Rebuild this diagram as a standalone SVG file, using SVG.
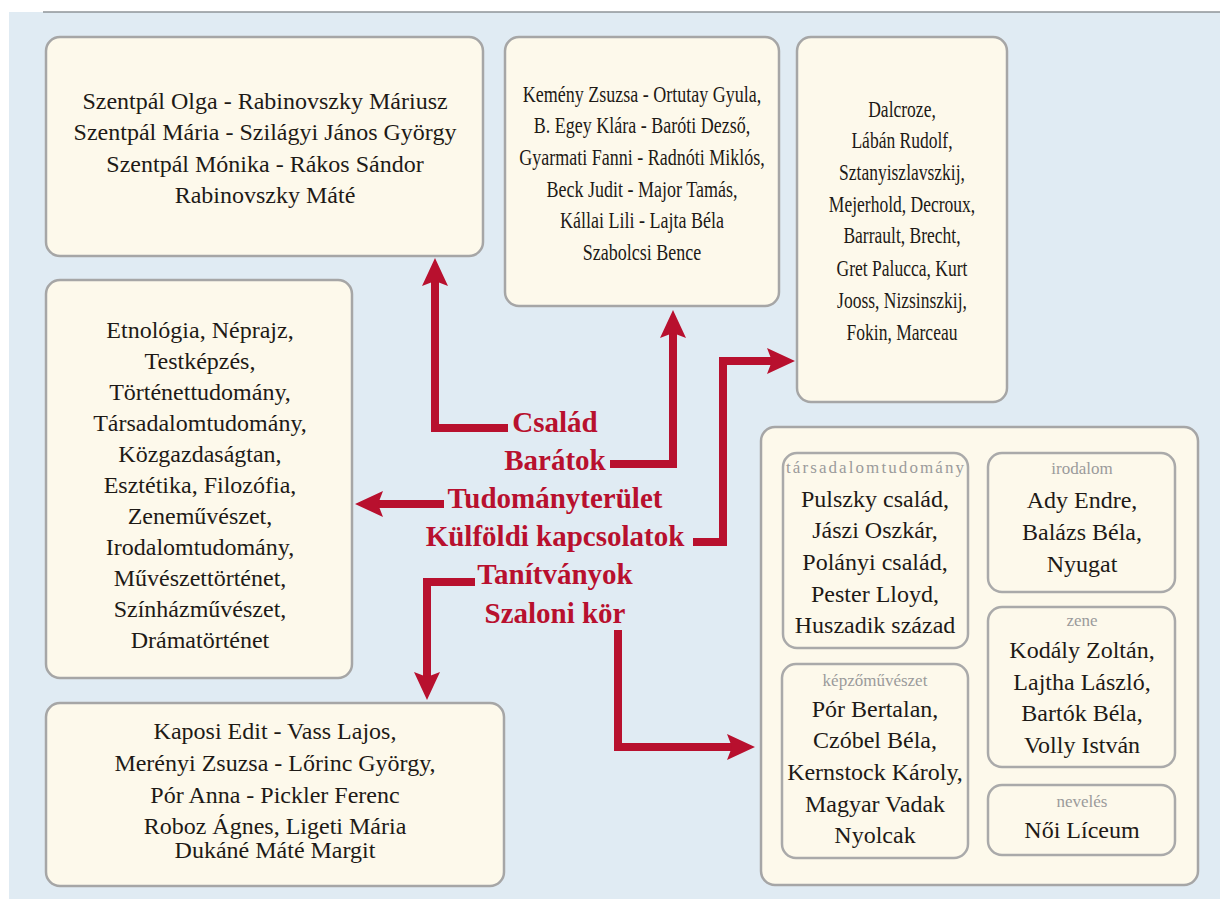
<svg xmlns="http://www.w3.org/2000/svg" width="1220" height="899" viewBox="0 0 1220 899">
<style>
.box{fill:#fdf9eb;stroke:#a6a6a6;stroke-width:2.5}
.inner{fill:#fdf9eb;stroke:#aaaaaa;stroke-width:2.5}
.t{font-size:24px;fill:#1e1a16;text-anchor:middle}
.cat{font-size:17px;fill:#9b9b9b;text-anchor:middle}
.lbl{font-size:29px;font-weight:bold;fill:#b8102e;text-anchor:middle}
.conn{fill:none;stroke:#b8102e;stroke-width:8;stroke-linejoin:miter}
</style>
<defs>
<marker id="ah" markerUnits="userSpaceOnUse" markerWidth="28" markerHeight="26" refX="13" refY="13" orient="auto">
<path d="M0,0 L28,13 L0,26 L5,13 z" fill="#b8102e"/>
</marker>
</defs>
<rect x="0" y="0" width="1220" height="899" fill="#ffffff"/>
<rect x="9" y="12" width="1211" height="887" fill="#e0ebf3"/>
<line x1="43" y1="12" x2="1220" y2="12" stroke="#8f9499" stroke-width="1.5"/>

<g font-family="Liberation Serif, DejaVu Serif, serif">
<g id="node-csalad">
<rect class="box" x="46" y="37" width="437" height="219" rx="14"/>
<text class="t" x="265" y="109">Szentpál Olga - Rabinovszky Máriusz</text>
<text class="t" x="265" y="140">Szentpál Mária - Szilágyi János György</text>
<text class="t" x="265" y="172">Szentpál Mónika - Rákos Sándor</text>
<text class="t" x="265" y="203">Rabinovszky Máté</text>
</g>

<g id="node-baratok">
<rect class="box" x="505" y="37" width="274" height="269" rx="14"/>
<g transform="translate(642 0) scale(0.75 1)">
<text class="t" x="0" y="102">Kemény Zsuzsa - Ortutay Gyula,</text>
<text class="t" x="0" y="133">B. Egey Klára - Baróti Dezső,</text>
<text class="t" x="0" y="165">Gyarmati Fanni - Radnóti Miklós,</text>
<text class="t" x="0" y="197">Beck Judit - Major Tamás,</text>
<text class="t" x="0" y="228">Kállai Lili - Lajta Béla</text>
<text class="t" x="0" y="260">Szabolcsi Bence</text>
</g>
</g>

<g id="node-kulfoldi">
<rect class="box" x="797" y="37" width="210" height="365" rx="14"/>
<g transform="translate(902 0) scale(0.73 1)">
<text class="t" x="0" y="117">Dalcroze,</text>
<text class="t" x="0" y="148">Lábán Rudolf,</text>
<text class="t" x="0" y="180">Sztanyiszlavszkij,</text>
<text class="t" x="0" y="212">Mejerhold, Decroux,</text>
<text class="t" x="0" y="243">Barrault, Brecht,</text>
<text class="t" x="0" y="276">Gret Palucca, Kurt</text>
<text class="t" x="0" y="308">Jooss, Nizsinszkij,</text>
<text class="t" x="0" y="340">Fokin, Marceau</text>
</g>
</g>

<g id="node-tudomany">
<rect class="box" x="46" y="280" width="306" height="398" rx="14"/>
<text class="t" x="200" y="338">Etnológia, Néprajz,</text>
<text class="t" x="200" y="369">Testképzés,</text>
<text class="t" x="200" y="400">Történettudomány,</text>
<text class="t" x="200" y="431">Társadalomtudomány,</text>
<text class="t" x="200" y="462">Közgazdaságtan,</text>
<text class="t" x="200" y="493">Esztétika,  Filozófia,</text>
<text class="t" x="200" y="524">Zeneművészet,</text>
<text class="t" x="200" y="555">Irodalomtudomány,</text>
<text class="t" x="200" y="586">Művészettörténet,</text>
<text class="t" x="200" y="617">Színházművészet,</text>
<text class="t" x="200" y="648">Drámatörténet</text>
</g>

<g id="node-tanitvanyok">
<rect class="box" x="46" y="703" width="458" height="183" rx="14"/>
<text class="t" x="275" y="739">Kaposi Edit - Vass Lajos,</text>
<text class="t" x="275" y="771">Merényi Zsuzsa - Lőrinc György,</text>
<text class="t" x="275" y="803">Pór Anna - Pickler Ferenc</text>
<text class="t" x="275" y="834">Roboz Ágnes, Ligeti Mária</text>
<text class="t" x="275" y="858">Dukáné Máté Margit</text>
</g>

<g id="node-szaloni">
<rect class="box" x="761" y="427" width="437" height="458" rx="14"/>
<g id="sub-tarsadalom">
<rect class="inner" x="783" y="453" width="185" height="195" rx="14"/>
<text class="cat" x="875" y="473" textLength="178" lengthAdjust="spacing">társadalomtudomány</text>
<text class="t" x="875" y="507">Pulszky család,</text>
<text class="t" x="875" y="538">Jászi Oszkár,</text>
<text class="t" x="875" y="570">Polányi család,</text>
<text class="t" x="875" y="602">Pester Lloyd,</text>
<text class="t" x="875" y="633">Huszadik század</text>
</g>
<g id="sub-irodalom">
<rect class="inner" x="988" y="453" width="187" height="139" rx="14"/>
<text class="cat" x="1082" y="474">irodalom</text>
<text class="t" x="1082" y="508">Ady Endre,</text>
<text class="t" x="1082" y="540">Balázs Béla,</text>
<text class="t" x="1082" y="572">Nyugat</text>
</g>
<g id="sub-zene">
<rect class="inner" x="988" y="607" width="187" height="160" rx="14"/>
<text class="cat" x="1082" y="626">zene</text>
<text class="t" x="1082" y="658">Kodály Zoltán,</text>
<text class="t" x="1082" y="690">Lajtha László,</text>
<text class="t" x="1082" y="721">Bartók Béla,</text>
<text class="t" x="1082" y="753">Volly István</text>
</g>
<g id="sub-kepzo">
<rect class="inner" x="782" y="664" width="186" height="194" rx="14"/>
<text class="cat" x="875" y="686">képzőművészet</text>
<text class="t" x="875" y="717">Pór Bertalan,</text>
<text class="t" x="875" y="748">Czóbel Béla,</text>
<text class="t" x="875" y="780">Kernstock Károly,</text>
<text class="t" x="875" y="812">Magyar Vadak</text>
<text class="t" x="875" y="843">Nyolcak</text>
</g>
<g id="sub-neveles">
<rect class="inner" x="988" y="785" width="187" height="70" rx="14"/>
<text class="cat" x="1082" y="807">nevelés</text>
<text class="t" x="1082" y="838">Női Líceum</text>
</g>
</g>

<g id="node-center">
<text class="lbl" x="555" y="432">Család</text>
<text class="lbl" x="555" y="470">Barátok</text>
<text class="lbl" x="555" y="508">Tudományterület</text>
<text class="lbl" x="555" y="546">Külföldi kapcsolatok</text>
<text class="lbl" x="555" y="584">Tanítványok</text>
<text class="lbl" x="555" y="623">Szaloni kör</text>
</g>
</g>

<g id="connectors">
<path class="conn" d="M508 428 H435 V273" marker-end="url(#ah)"/>
<path class="conn" d="M610 464 H673 V325" marker-end="url(#ah)"/>
<path class="conn" d="M693 542 H723 V361 H780" marker-end="url(#ah)"/>
<path class="conn" d="M444 504 H370" marker-end="url(#ah)"/>
<path class="conn" d="M475 582 H427 V685" marker-end="url(#ah)"/>
<path class="conn" d="M618 630 V747 H740" marker-end="url(#ah)"/>
</g>
</svg>
